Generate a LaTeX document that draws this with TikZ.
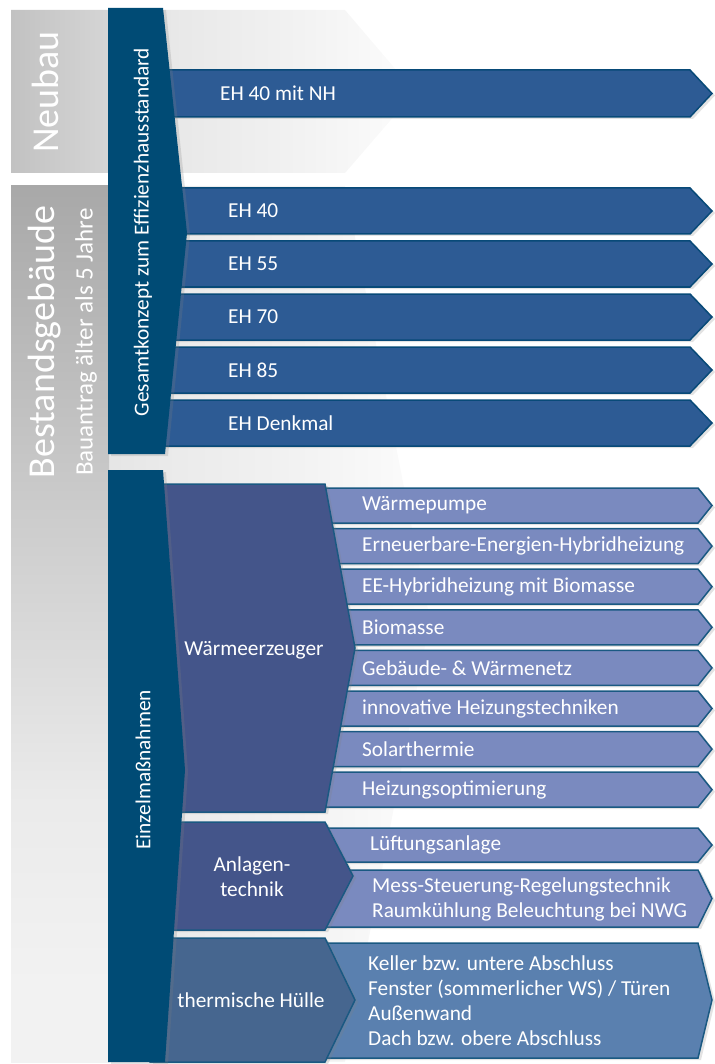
\documentclass[tikz,border=0pt]{standalone}
\usepackage{fontspec}
\setmainfont{Carlito}
\usetikzlibrary{shadows}

\definecolor{barblue}{RGB}{0,75,117}
\definecolor{ehblue}{RGB}{45,91,148}
\definecolor{ehedge}{RGB}{8,74,120}
\definecolor{grpblue}{RGB}{68,85,138}
\definecolor{huelleblue}{RGB}{70,102,143}
\definecolor{itemblue}{RGB}{122,138,191}
\definecolor{itemedge}{RGB}{26,89,130}
\definecolor{huelleitem}{RGB}{90,128,175}

% soft grey fades of the two panels
\pgfdeclarehorizontalshading{neubaufade}{100bp}{color(0bp)=(black!24); color(25bp)=(black!24);
  color(36bp)=(black!17); color(45bp)=(black!9); color(61bp)=(black!5); color(66bp)=(black!3.5);
  color(75bp)=(black!1); color(100bp)=(black!1)}
\pgfdeclareverticalshading{bestandleft}{100bp}{color(0bp)=(black!5); color(29bp)=(black!5);
  color(40bp)=(black!8); color(59bp)=(black!22); color(75bp)=(black!34); color(100bp)=(black!34)}
\pgfdeclarehorizontalshading{bestandright}{100bp}{color(0bp)=(black!10); color(25bp)=(black!10);
  color(35bp)=(black!8); color(55bp)=(black!5); color(70bp)=(black!2); color(75bp)=(black!1.5);
  color(100bp)=(black!1.5)}

\tikzset{
  softshadow/.style={drop shadow={shadow xshift=3pt, shadow yshift=-2pt, opacity=0.22}},
  colshape/.style={fill=barblue, softshadow},
  ehrow/.style={fill=ehblue, draw=ehedge, line width=1.5pt, softshadow},
  itemrow/.style={fill=itemblue, draw=itemedge, line width=1.5pt, softshadow},
  grpshape/.style={fill=grpblue, draw=itemedge, line width=1.5pt, softshadow},
  rowtext/.style={text=white, inner sep=0pt, font=\fontsize{21.3}{25}\selectfont},
  titletext/.style={text=white, inner sep=0pt, rotate=90, font=\fontsize{38}{40}\selectfont},
}

\begin{document}
\begin{tikzpicture}[x=1pt, y=-1pt]
  \useasboundingbox (0,0) rectangle (714,1064);

  % grey panels behind everything
  \shade[shading=neubaufade]
    (11,10) -- (345,10) -- (415,92) -- (345,173) -- (11,173) -- cycle;
  \shade[shading=bestandright]
    (108,186) -- (345,186) -- (430,620) -- (345,1062) -- (108,1062) -- cycle;
  \shade[shading=bestandleft] (11,186) rectangle (109,1062);
  \node[titletext] (neubau) at (45,92) {Neubau};
  \node[titletext] (bestand) at (45,342) {Bestandsgebäude};
  \node[text=white, inner sep=0pt, rotate=90, font=\fontsize{25}{27}\selectfont]
    (bauantrag) at (86,342) {Bauantrag älter als 5 Jahre};

  % Effizienzhaus rows
  \draw[ehrow] (150,70) -- (690,70) -- (712,93.5) -- (690,117) -- (150,117) -- cycle;
  \node[rowtext, anchor=west] (ehnh) at (220,93.5) {EH 40 mit NH};
  \foreach \ehtext [count=\i from 0] in {EH 40,EH 55,EH 70,EH 85,EH Denkmal}{
    \pgfmathsetmacro\rowtop{188+53*\i}
    \draw[ehrow] (150,\rowtop) -- (690,\rowtop) -- (712,\rowtop+23)
      -- (690,\rowtop+46) -- (150,\rowtop+46) -- cycle;
    \node[rowtext, anchor=west] (eh\i) at (228,\rowtop+23) {\ehtext};
  }

  \fill[colshape] (108,8) -- (163,8) -- (187,233) -- (165,454) -- (108,454) -- cycle;
  \node[rowtext, rotate=90] (gesamt) at (143,232) {Gesamtkonzept zum Effizienzhausstandard};

  % single measures
  \foreach \itemtext [count=\i from 0] in {Wärmepumpe,Erneuerbare-Energien-Hybridheizung,
      EE-Hybridheizung mit Biomasse,Biomasse,Gebäude- \& Wärmenetz,
      innovative Heizungstechniken,Solarthermie,Heizungsoptimierung}{
    \pgfmathsetmacro\rowtop{488+40.6*\i}
    \draw[itemrow] (300,\rowtop) -- (698,\rowtop) -- (712,\rowtop+17.5)
      -- (698,\rowtop+35) -- (300,\rowtop+35) -- cycle;
    \node[rowtext, anchor=west] (item\i) at (362,\rowtop+17.5) {\itemtext};
  }
  \draw[itemrow] (300,828) -- (698,828) -- (712,845) -- (698,862) -- (300,862) -- cycle;
  \node[rowtext, anchor=west] (lueftung) at (370,845) {Lüftungsanlage};
  \draw[itemrow] (300,870) -- (698,870) -- (712,898.5) -- (698,927) -- (300,927) -- cycle;
  \node[rowtext, anchor=west, align=left] (msr) at (372,899)
    {Mess-Steuerung-Regelungstechnik\\Raumkühlung Beleuchtung bei NWG};
  \draw[itemrow, fill=huelleitem] (300,943) -- (698,943) -- (712,1000) -- (698,1058)
    -- (300,1058) -- cycle;
  \node[rowtext, anchor=west, align=left] (huelleteile) at (368,1001)
    {Keller bzw. untere Abschluss\\Fenster (sommerlicher WS) / Türen\\Außenwand\\Dach bzw. obere Abschluss};

  \draw[grpshape] (150,484) -- (325,484) -- (355,648) -- (325,812) -- (150,812) -- cycle;
  \node[rowtext] (waerme) at (254,650) {Wärmeerzeuger};
  \draw[grpshape] (150,822) -- (325,822) -- (353,876) -- (325,930) -- (150,930) -- cycle;
  \node[rowtext, align=center] (anlagen) at (252,877) {Anlagen-\\technik};
  \draw[grpshape, fill=huelleblue] (150,938) -- (325,938) -- (355,1000) -- (325,1062)
    -- (150,1062) -- cycle;
  \node[rowtext] (huelle) at (251,1000) {thermische Hülle};

  \fill[colshape] (108,470) -- (163,470) -- (185,770) -- (165,1062) -- (108,1062) -- cycle;
  \node[rowtext, rotate=90] (einzel) at (143,770) {Einzelmaßnahmen};
\end{tikzpicture}
\end{document}
